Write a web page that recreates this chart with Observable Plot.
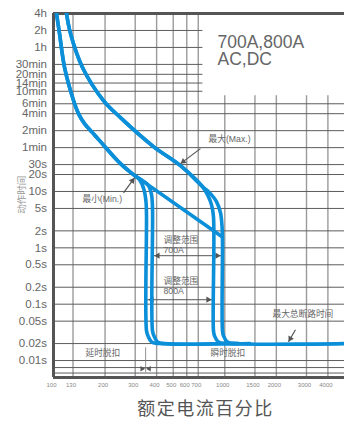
<!DOCTYPE html>
<html>
<head>
<meta charset="utf-8">
<script src="https://cdn.jsdelivr.net/npm/d3@7"></script>
<script src="https://cdn.jsdelivr.net/npm/@observablehq/plot@0.6"></script>
<style>
  html, body { margin: 0; padding: 0; background: #fff; }
  #chart svg { display: block; }
</style>
</head>
<body>
<div id="chart"></div>
<script>
// Trip-time axis: ticks in seconds and their labels
const timeTicks = [14400, 7200, 3600, 1800, 1200, 840, 600, 360, 240, 120, 60, 30, 20, 10, 5, 2, 1, 0.5, 0.2, 0.1, 0.05, 0.02, 0.01];
const timeLabels = ["4h", "2h", "1h", "30min", "20min", "14min", "10min", "6min", "4min", "2min", "1min", "30s", "20s", "10s", "5s", "2s", "1s", "0.5s", "0.2s", "0.1s", "0.05s", "0.02s", "0.01s"];
const timeMinorGrid = [0.0075, 0.006];

// Current axis: percent of rated current
const currentTicks = [100, 130, 200, 300, 400, 500, 600, 700, 1000, 1500, 2000, 3000, 4000];

// Upper (max) band: long-time part, then the two instantaneous branches
const maxTopI = [119.1, 125.7, 147.7, 195.8, 246.1, 383.6, 551.2, 741.0];
const maxTopT = [14400, 6360, 1588, 411, 204.6, 62.7, 28.7, 12.2];
const maxOuterI = [825, 894.4, 943.8, 963.3, 969.6, 969.6, 982.7, 1037, 1155, 5000];
const maxOuterT = [9.16, 6.59, 4.2, 2.47, 1.34, 0.0337, 0.0274, 0.0214, 0.02, 0.02];
const maxInnerI = [792.5, 836.4, 859, 859, 870.9, 918.7, 1023, 1400];
const maxInnerT = [8.78, 5.83, 3.57, 0.0337, 0.0274, 0.0214, 0.02, 0.02];

// Lower (min) band: long-time part, the two instantaneous drops and the diagonal
const minTopI = [104.1, 108.4, 116.0, 130.9, 139.9, 151.7, 168.9, 188.1, 246.1, 293.1];
const minTopT = [14400, 6360, 1588, 411, 241.1, 160.2, 110.8, 76.7, 31.2, 19.9];
const min800I = [317.8, 337.6, 346.7, 349.1, 349.1, 356.2, 373.5, 410.2, 1200];
const min800T = [16.2, 10.77, 6.59, 3.72, 0.0337, 0.0274, 0.0214, 0.02, 0.02];
const min700I = [330.8, 358.6, 373.5, 378.4, 378.4, 386.2, 404.7, 444.6, 1200];
const min700T = [15.58, 12.69, 8.78, 5.16, 0.0337, 0.0274, 0.0214, 0.02, 0.02];
const minDiagI = [293.1, 969.6];
const minDiagT = [19.9, 1.56];

// Adjustment ranges of the instantaneous trip (percent of rated current)
const range700 = [378.4, 969.6];
const range800 = [349.1, 859];

const pts = (I, T) => I.map((x, i) => ({I: x, t: T[i]}));

const blue = "#0b8fd9";
const gridV = "#9b9b9b";
const gridH = "#5c5c5c";
const frameC = "#555";
const annC = "#666";
const font = "'Liberation Sans', Arial, 'Noto Sans CJK SC', sans-serif";

const curveStyle = {x: "I", y: "t", stroke: blue, strokeWidth: 3.6, curve: "catmull-rom", strokeLinecap: "round", strokeLinejoin: "round", clip: true};

const head = (x, y, rotate, dx, dy, r = 2.3) =>
  Plot.dot([0], {x, y, symbol: "triangle", r, fill: "#555", stroke: "none", rotate, dx, dy});

const chart = Plot.plot({
  width: 344,
  height: 421,
  marginLeft: 53,
  marginRight: 0,
  marginTop: 13,
  marginBottom: 44,
  style: {fontFamily: font, background: "#fff", overflow: "visible"},
  x: {type: "log", domain: [100, 5000], axis: null},
  y: {type: "log", domain: [0.005, 14400], axis: null},
  marks: [
    // grid
    Plot.ruleX(currentTicks.slice(1), {stroke: gridV, strokeWidth: 1.4}),
    Plot.ruleY(timeTicks.slice(1).concat(timeMinorGrid), {stroke: gridH, strokeWidth: 1}),
    // blank panel holding the rating text
    Plot.rect([0], {x1: 745, x2: 5000, y1: 500, y2: 14400, fill: "#fff"}),
    // frame
    Plot.ruleX([100], {stroke: frameC, strokeWidth: 3}),
    Plot.ruleY([14400], {stroke: frameC, strokeWidth: 3}),
    Plot.ruleY([0.005], {stroke: frameC, strokeWidth: 3}),

    // axis labels
    Plot.text(timeTicks, {y: d => d, text: (d, i) => timeLabels[i], frameAnchor: "left", dx: -6.5, textAnchor: "end", fontSize: 11.5, fill: "#666"}),
    Plot.text(currentTicks, {x: d => d, text: d => String(d), frameAnchor: "bottom", lineAnchor: "middle", dy: 8, dx: -2, fontSize: 6, fill: "#888"}),
    Plot.text(["额定电流百分比"], {frameAnchor: "bottom", lineAnchor: "middle", textAnchor: "middle", dy: 31.5, dx: 6.5, fontSize: 18, fill: "#555"}),
    Plot.text(["动作时间"], {x: 100, y: 8.78, dx: -32, rotate: -90, textAnchor: "middle", fontSize: 9.5, fill: "#999"}),
    Plot.text(["700A,800A\nAC,DC"], {frameAnchor: "top-left", dx: 164, dy: 22, textAnchor: "start", lineAnchor: "top", lineHeight: 1, fontSize: 17.5, fill: "#666"}),

    // adjustment ranges
    Plot.text(["调整范围\n700A"], {x: 439, y: 1.136, textAnchor: "start", lineHeight: 1.15, fontSize: 8.7, fill: annC}),
    Plot.link([0], {x1: range700[0], x2: range700[1], y1: 0.725, y2: 0.725, stroke: "#555", strokeWidth: 1}),
    head(range700[0], 0.725, -90, 5.3, 0),
    head(range700[1], 0.725, 90, -5.3, 0),
    Plot.text(["调整范围\n800A"], {x: 439, y: 0.212, textAnchor: "start", lineHeight: 1.15, fontSize: 8.7, fill: annC}),
    Plot.link([0], {x1: range800[0], x2: range800[1], y1: 0.12, y2: 0.12, stroke: "#555", strokeWidth: 1}),
    head(range800[0], 0.12, -90, 5.3, 0),
    head(range800[1], 0.12, 90, -5.3, 0),

    // delayed / instantaneous boundary
    Plot.ruleX([345], {y1: 0.0168, y2: 0.00605, stroke: "#777", strokeWidth: 0.8}),
    head(345, 0.00713, 90, -3.6, 0, 2),
    head(345, 0.00713, -90, 3.6, 0, 2),
    Plot.text(["延时脱扣"], {x: 153.7, y: 0.01344, textAnchor: "start", fontSize: 8.7, fill: annC}),
    Plot.text(["瞬时脱扣"], {x: 825, y: 0.01344, textAnchor: "start", fontSize: 8.7, fill: annC}),

    // curves
    Plot.line(pts(maxTopI.concat(maxOuterI), maxTopT.concat(maxOuterT)), curveStyle),
    Plot.line(pts(maxTopI.concat(maxInnerI), maxTopT.concat(maxInnerT)), curveStyle),
    Plot.line(pts(minTopI.concat(min800I), minTopT.concat(min800T)), curveStyle),
    Plot.line(pts(minTopI.concat(min700I), minTopT.concat(min700T)), curveStyle),
    Plot.line(pts(minDiagI, minDiagT), curveStyle),

    // curve annotations
    Plot.text(["最大(Max.)"], {x: 804, y: 83.4, textAnchor: "start", fontSize: 8.7, fill: annC}),
    Plot.link([0], {x1: 721.3, y1: 57.6, x2: 551.2, y2: 31.2, stroke: "#555", strokeWidth: 1.2}),
    head(551.2, 31.2, -126.9, 2.86, -2.15),
    Plot.text(["最小(Min.)"], {x: 147.6, y: 7.16, textAnchor: "start", fontSize: 8.7, fill: annC}),
    Plot.link([0], {x1: 256.3, y1: 9.45, x2: 297.1, y2: 17.5, stroke: "#555", strokeWidth: 1.2}),
    head(297.1, 17.5, 36.3, -2.12, 2.89),
    Plot.text(["最大总断路时间"], {x: 1899, y: 0.0675, textAnchor: "start", fontSize: 8.7, fill: annC}),
    Plot.link([0], {x1: 2586, y1: 0.0351, x2: 2355, y2: 0.0215, stroke: "#555", strokeWidth: 1.2}),
    head(2355, 0.0215, -149.7, 1.8, -3.09)
  ]
});

chart.querySelectorAll("text").forEach(t => {
  if (t.textContent === "额定电流百分比") t.setAttribute("letter-spacing", "1.5");
});

document.getElementById("chart").appendChild(chart);
</script>
</body>
</html>
